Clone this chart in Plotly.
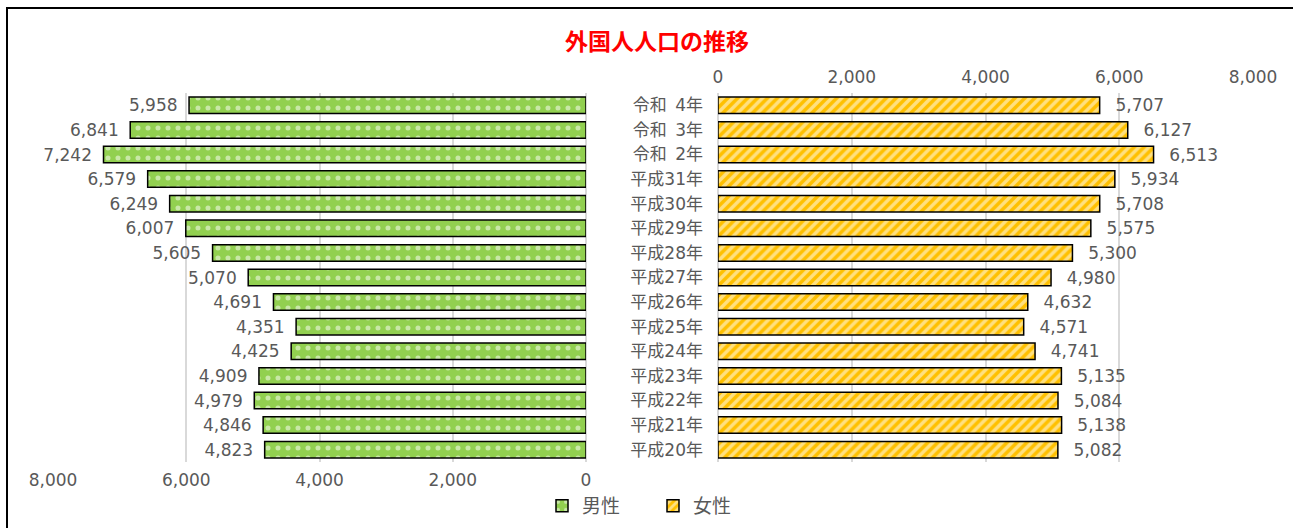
import plotly.graph_objects as go

categories = ["令和\u20024年", "令和\u20023年", "令和\u20022年", "平成31年", "平成30年", "平成29年", "平成28年",
              "平成27年", "平成26年", "平成25年", "平成24年", "平成23年", "平成22年", "平成21年", "平成20年"]
male = [5958, 6841, 7242, 6579, 6249, 6007, 5605, 5070, 4691, 4351, 4425, 4909, 4979, 4846, 4823]
female = [5707, 6127, 6513, 5934, 5708, 5575, 5300, 4980, 4632, 4571, 4741, 5135, 5084, 5138, 5082]
tickvals = [0, 2000, 4000, 6000, 8000]
ticktext = ["0", "2,000", "4,000", "6,000", "8,000"]

FONT = "DejaVu Sans, Noto Sans CJK JP"
CJK = "Noto Sans CJK JP"
GRAY = "#595959"
GRID = "#d9d9d9"

W, H = 1293, 528
ML, MR, MT, MB = 53, 40, 93, 0
PW = W - ML - MR
PH = H - MT - MB
PLOT_BOTTOM = 462

def px_x(p):
    return (p - ML) / PW

def px_y(p):
    return (H - MB - p) / PH

fig = go.Figure()
fig.add_trace(go.Bar(
    name="男性", y=categories, x=male, orientation="h",
    xaxis="x", yaxis="y",
    marker=dict(color="#92D050", line=dict(color="#000000", width=1.5),
                pattern=dict(shape=".", fgcolor="#ffffff", bgcolor="#92D050", size=10, solidity=0.2)),
    texttemplate="%{x:,}\u2002", textposition="outside", cliponaxis=False, constraintext="none",
    textfont=dict(family=FONT, size=17, color=GRAY),
))
fig.add_trace(go.Bar(
    name="女性", y=categories, x=female, orientation="h",
    xaxis="x2", yaxis="y2",
    marker=dict(color="#FFC000", line=dict(color="#000000", width=1.5),
                pattern=dict(shape="/", fgcolor="#ffffff", bgcolor="#FFC000", size=7, solidity=0.5)),
    texttemplate="\u2002\u2005%{x:,}", textposition="outside", cliponaxis=False, constraintext="none",
    textfont=dict(family=FONT, size=17, color=GRAY),
))

axis_common = dict(tickvals=tickvals, ticktext=ticktext, showgrid=True, gridcolor=GRID, gridwidth=1.5,
                   zeroline=True, zerolinecolor=GRID, zerolinewidth=1.5, showline=False, ticks="",
                   tickfont=dict(family=FONT, size=17, color=GRAY), ticklabelstandoff=6)

ydom = [px_y(PLOT_BOTTOM), 1]

fig.update_layout(
    width=W, height=H,
    margin=dict(l=ML, r=MR, t=MT, b=MB),
    paper_bgcolor="white", plot_bgcolor="white",
    bargap=0.33,
    showlegend=True,
    title=dict(text="<b>外国人人口の推移</b>", x=px_x(657), xref="paper", xanchor="center",
               y=1 - 42 / H, yref="container", yanchor="middle",
               font=dict(family=CJK, size=23, color="#FF0000")),
    xaxis=dict(domain=[0, px_x(586)], range=[8000, 0], side="bottom", anchor="y", **axis_common),
    xaxis2=dict(domain=[px_x(718), 1], range=[0, 8000], side="top", anchor="y2", **axis_common),
    yaxis=dict(domain=ydom, anchor="x", type="category", autorange="reversed", showticklabels=False,
               showgrid=False, ticks="", showline=False),
    yaxis2=dict(domain=ydom, anchor="x2", type="category", autorange="reversed", showticklabels=True,
                showgrid=False, ticks="", showline=False, ticklabelstandoff=14,
                tickfont=dict(family=FONT, size=17, color=GRAY)),
    legend=dict(orientation="h", x=px_x(542), xanchor="left", y=px_y(506), yanchor="middle",
                font=dict(family=CJK, size=19, color=GRAY), itemwidth=30, entrywidth=66),
    shapes=[dict(type="rect", xref="paper", yref="paper",
                 x0=px_x(7), x1=px_x(1310), y0=px_y(540), y1=px_y(8),
                 line=dict(color="#000000", width=2), fillcolor="rgba(0,0,0,0)", layer="below")],
)

fig.write_html("out.html", config={"displayModeBar": False},
               post_script="document.body.style.margin='0';document.body.style.overflow='hidden';")
